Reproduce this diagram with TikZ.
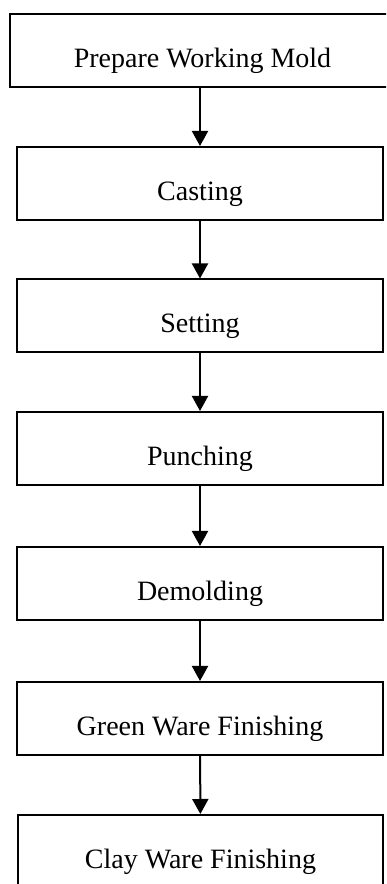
\documentclass[tikz,border=0pt]{standalone}
\usepackage{fontspec}
\setmainfont{Liberation Serif}
\usetikzlibrary{arrows.meta}

\tikzset{
  stepbox/.style={draw=black,line width=1pt,minimum width=183pt,minimum height=36.5pt,
    inner sep=0pt,text height=16.7pt,text depth=0pt,font=\fontsize{14}{16}\selectfont},
  flow/.style={black,line width=1pt,-{Triangle[length=7.5pt,width=8pt]}}
}

\begin{document}
\begin{tikzpicture} [x=0.5pt,y=0.5pt]

\useasboundingbox (0,0) rectangle (386,884);
\clip (0,0) rectangle (386,884);

\node[stepbox,minimum width=192.5pt] (prep) at (202.5,833.5) {Prepare Working Mold};
\node[stepbox] (cast) at (200,700.5) {Casting};
\node[stepbox] (set) at (200,568) {Setting};
\node[stepbox] (punch) at (200,435.5) {Punching};
\node[stepbox] (demold) at (200,300.5) {Demolding};
\node[stepbox] (green) at (200,165.5) {Green Ware Finishing};
\node[stepbox,minimum width=182.5pt] (clay) at (200.5,32.5) {Clay Ware Finishing};

\draw[flow] (prep.south -| cast.north) -- (cast.north);
\draw[flow] (cast) -- (set);
\draw[flow] (set) -- (punch);
\draw[flow] (punch) -- (demold);
\draw[flow] (demold) -- (green);
\draw[flow] (green) -- (clay);

\end{tikzpicture}
\end{document}
